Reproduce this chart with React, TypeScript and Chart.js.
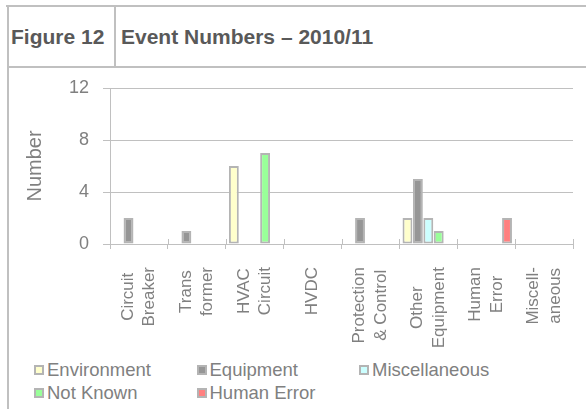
import React, { useEffect, useRef } from "react";
import { Chart, registerables } from "chart.js";

Chart.register(...registerables);

const categories: string[][] = [
  ["Circuit", "Breaker"],
  ["Trans", "former"],
  ["HVAC", "Circuit"],
  ["HVDC"],
  ["Protection", "& Control"],
  ["Other", "Equipment"],
  ["Human", "Error"],
  ["Miscell-", "aneous"],
];

const seriesNames = ["Environment", "Equipment", "Miscellaneous", "Not Known", "Human Error"];
const environment = [0, 0, 6, 0, 0, 2, 0, 0];
const equipment = [2, 1, 0, 0, 2, 5, 0, 0];
const miscellaneous = [0, 0, 0, 0, 0, 2, 0, 0];
const notKnown = [0, 0, 7, 0, 0, 1, 0, 0];
const humanError = [0, 0, 0, 0, 0, 0, 2, 0];
const seriesColors = ["#FFFFCC", "#969696", "#CCFFFF", "#99FF99", "#FF8080"];
const yTicks = [0, 4, 8, 12];

const FONT = "'Liberation Sans', Arial, sans-serif";
const TEXT_GRAY = "#808080";
const LINE_GRAY = "#c0c0c0";

const xLabelPlugin = {
  id: "xLabelPlugin",
  afterDraw(chart: any) {
    const xs = chart.scales.x;
    const ctx = chart.ctx;
    const area = chart.chartArea;
    ctx.save();
    // tick marks crossing the axis (upper half)
    ctx.strokeStyle = LINE_GRAY;
    ctx.lineWidth = 1;
    for (let i = 0; i <= categories.length; i++) {
      const px = Math.round(xs.getPixelForValue(i - 0.5)) + 0.5;
      ctx.beginPath();
      ctx.moveTo(px, area.bottom - 5);
      ctx.lineTo(px, area.bottom);
      ctx.stroke();
    }
    ctx.font = `17px ${FONT}`;
    ctx.fillStyle = TEXT_GRAY;
    ctx.textAlign = "center";
    ctx.textBaseline = "middle";
    const spacing = 21.5;
    const top = area.bottom + 23;
    categories.forEach((lines, i) => {
      const cx = xs.getPixelForValue(i);
      const maxW = Math.max(...lines.map((l) => ctx.measureText(l).width));
      const n = lines.length;
      lines.forEach((line, j) => {
        const x = cx + (j - (n - 1) / 2) * spacing;
        const y = top + maxW / 2;
        ctx.save();
        ctx.translate(x, y);
        ctx.rotate(-Math.PI / 2);
        ctx.fillText(line, 0, 0);
        ctx.restore();
      });
    });
    ctx.restore();
  },
};

export default function App() {
  const ref = useRef<HTMLCanvasElement | null>(null);

  useEffect(() => {
    if (!ref.current) return;
    const values = [environment, equipment, miscellaneous, notKnown, humanError];
    const chart = new Chart(ref.current, {
      type: "bar",
      data: {
        labels: categories.map((c) => c.join(" ")),
        datasets: seriesNames.map((name, k) => ({
          label: name,
          data: values[k],
          backgroundColor: seriesColors[k],
          borderColor: "#b4b4b4",
          borderWidth: 2,
          borderSkipped: false,
          categoryPercentage: 0.9,
          barPercentage: 0.95,
        })),
      },
      options: {
        animation: false,
        responsive: false,
        maintainAspectRatio: false,
        layout: { padding: { left: 0, right: 13, top: 18, bottom: 0 } },
        plugins: { legend: { display: false }, tooltip: { enabled: false } },
        scales: {
          x: {
            grid: { display: true, drawOnChartArea: false, drawTicks: true, tickLength: 5, color: LINE_GRAY },
            border: { color: LINE_GRAY, width: 1 },
            ticks: { display: false },
            afterFit: (s: any) => {
              s.height = 111;
              s.paddingLeft = 0;
              s.paddingRight = 0;
            },
          },
          y: {
            min: 0,
            max: 12,
            afterBuildTicks: (s: any) => {
              s.ticks = yTicks.map((v) => ({ value: v }));
            },
            grid: { color: LINE_GRAY, lineWidth: 1, tickLength: 7 },
            border: { color: LINE_GRAY, width: 1 },
            ticks: { font: { family: FONT, size: 18 }, color: TEXT_GRAY, padding: 14 },
            title: {
              display: true,
              text: "Number",
              font: { family: FONT, size: 20 },
              color: TEXT_GRAY,
              padding: { top: 23, bottom: 0 },
            },
            afterFit: (s: any) => {
              s.width = 110;
              s.paddingTop = 10;
              s.paddingBottom = 10;
            },
          },
        },
      },
      plugins: [xLabelPlugin],
    });
    return () => chart.destroy();
  }, []);

  const legendItem = (k: number) => {
    const col = k % 3;
    const row = Math.floor(k / 3);
    return (
      <div
        key={k}
        style={{
          position: "absolute",
          left: 34 + col * 162.5,
          top: 359 + row * 23,
          height: 22,
          display: "flex",
          alignItems: "center",
          whiteSpace: "nowrap",
        }}
      >
        <span
          style={{
            display: "inline-block",
            width: 10,
            height: 10,
            boxSizing: "border-box",
            border: "2px solid #b4b4b4",
            background: seriesColors[k],
            marginRight: 3,
          }}
        />
        <span style={{ fontSize: 18.5, color: TEXT_GRAY, lineHeight: "22px" }}>{seriesNames[k]}</span>
      </div>
    );
  };

  return (
    <div
      style={{
        position: "absolute",
        left: 0,
        top: 0,
        width: 586,
        height: 409,
        overflow: "hidden",
        background: "#fff",
        fontFamily: FONT,
      }}
    >
      <div style={{ position: "absolute", left: 6, top: 5, width: 580, height: 2, background: LINE_GRAY }} />
      <div style={{ position: "absolute", left: 7, top: 5, width: 2, height: 404, background: LINE_GRAY }} />
      <div style={{ position: "absolute", left: 114, top: 5, width: 2, height: 62, background: LINE_GRAY }} />
      <div style={{ position: "absolute", left: 7, top: 66, width: 579, height: 2, background: LINE_GRAY }} />
      <div
        style={{
          position: "absolute",
          left: 11,
          top: 24,
          fontSize: 21,
          fontWeight: "bold",
          color: "#595959",
          lineHeight: "26px",
          whiteSpace: "nowrap",
        }}
      >
        Figure 12
      </div>
      <div
        style={{
          position: "absolute",
          left: 121,
          top: 24,
          fontSize: 21,
          fontWeight: "bold",
          color: "#595959",
          lineHeight: "26px",
          whiteSpace: "nowrap",
        }}
      >
        Event Numbers – 2010/11
      </div>
      <canvas ref={ref} width={586} height={285} style={{ position: "absolute", left: 0, top: 70, width: 586, height: 285 }} />
      {seriesNames.map((_, k) => legendItem(k))}
    </div>
  );
}
